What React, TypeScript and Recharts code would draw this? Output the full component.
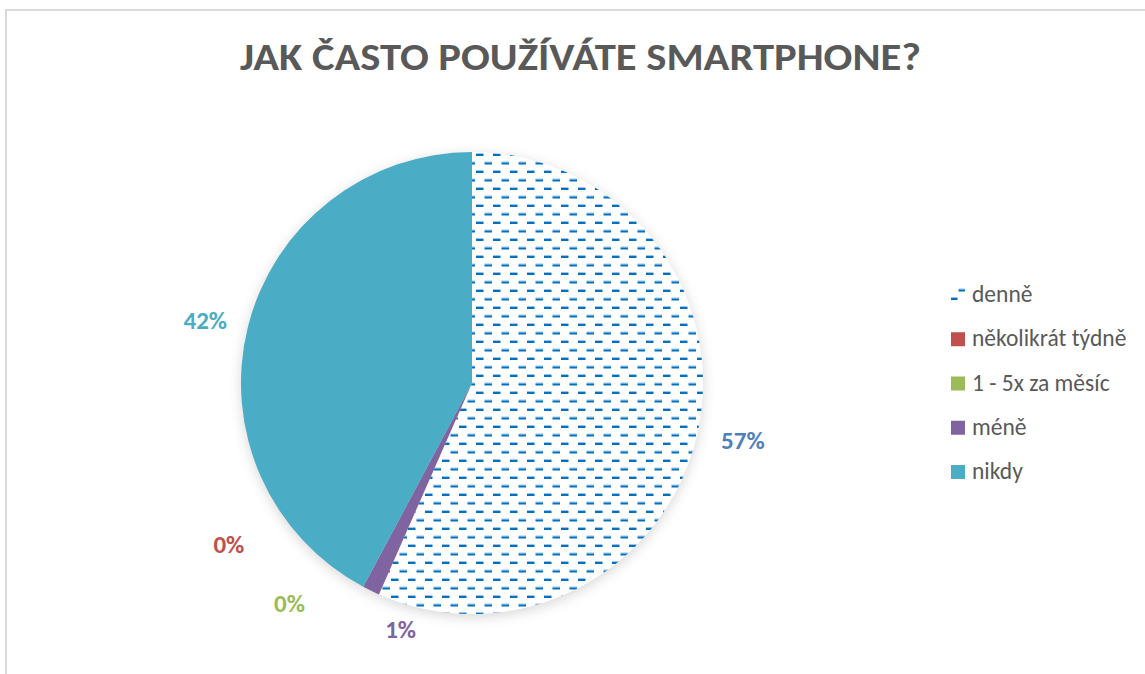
import React from "react";
import { PieChart, Pie, Cell, Legend } from "recharts";

const categories = ["denně", "několikrát týdně", "1 - 5x za měsíc", "méně", "nikdy"];
const values = [56.6, 0, 0, 1.2, 42.2];
const sliceFills = ["url(#dashPattern)", "#C0504D", "#9BBB59", "#8064A2", "#4BACC6"];
const labelColors = ["#4F81BD", "#C0504D", "#9BBB59", "#8064A2", "#4BACC6"];
const titleText = "JAK ČASTO POUŽÍVÁTE SMARTPHONE?";

// label layout (angular shift clockwise in degrees, radial gap beyond the rim)
const LABEL_PLACEMENT = [
  { shift: 0.2, gap: 46 },
  { shift: 32.6, gap: 61 },
  { shift: 15.9, gap: 55 },
  { shift: -9.8, gap: 26 },
  { shift: -0.8, gap: 43 },
];

const data = categories.map((name, i) => ({ name, value: values[i] }));
const total = values.reduce((a, b) => a + b, 0);

const FONT = "Carlito, Lato, 'Open Sans', sans-serif";
const RAD = Math.PI / 180;

const renderLabel = (props: any) => {
  const { cx, cy, midAngle, outerRadius, index } = props;
  const p = LABEL_PLACEMENT[index];
  const ang = midAngle - p.shift;
  const r = outerRadius + p.gap;
  const x = cx + r * Math.cos(-ang * RAD);
  const y = cy + r * Math.sin(-ang * RAD);
  const pct = Math.round((values[index] / total) * 100);
  return (
    <text
      key={`lbl-${index}`}
      x={x}
      y={y}
      textAnchor="middle"
      dominantBaseline="central"
      fill={labelColors[index]}
      fontFamily={FONT}
      fontWeight="bold"
      fontSize={25}
    >
      {`${pct}%`}
    </text>
  );
};

const renderLegend = () => (
  <svg width={195} height={230} style={{ overflow: "visible" }}>
    {categories.map((c, i) => {
      const base = 22 + i * 44.25;
      return (
        <g key={c}>
          <rect x={1} y={base - 14} width={14} height={14} fill={sliceFills[i]} />
          <text x={22} y={base} fill="#595959" fontFamily={FONT} fontSize={23.5}>
            {c}
          </text>
        </g>
      );
    })}
  </svg>
);

export default function App() {
  return (
    <div
      style={{
        position: "absolute",
        left: 0,
        top: 0,
        width: 1145,
        height: 674,
        overflow: "hidden",
        background: "#fff",
      }}
    >
      <svg width={0} height={0} style={{ position: "absolute" }}>
        <defs>
          <pattern id="dashPattern" patternUnits="userSpaceOnUse" width={17} height={17}>
            <rect x={0} y={0} width={17} height={17} fill="#fff" />
            <rect x={0} y={0} width={7.5} height={1} fill="#9DC3E6" />
            <rect x={0} y={1} width={7.5} height={2} fill="#0070C0" />
            <rect x={8.5} y={8.5} width={7.5} height={1} fill="#9DC3E6" />
            <rect x={8.5} y={9.5} width={7.5} height={2} fill="#0070C0" />
          </pattern>
        </defs>
      </svg>
      <div
        style={{
          position: "absolute",
          left: 5,
          top: 9,
          width: 1300,
          height: 800,
          border: "2px solid #d9d9d9",
          boxSizing: "border-box",
        }}
      />
      <div style={{ position: "absolute", left: 0, top: 0 }}>
        <PieChart width={1145} height={674} margin={{ top: 0, right: 0, bottom: 0, left: 0 }}>
          <Pie
            data={data}
            dataKey="value"
            nameKey="name"
            cx={472}
            cy={386}
            outerRadius={231}
            startAngle={90}
            endAngle={-270}
            isAnimationActive={false}
            stroke="none"
            fill="#000"
            className="pie-shadow"
            legendType="none"
          />
          <Pie
            data={data}
            dataKey="value"
            nameKey="name"
            cx={472}
            cy={383}
            outerRadius={231}
            startAngle={90}
            endAngle={-270}
            isAnimationActive={false}
            stroke="none"
            label={renderLabel}
            labelLine={false}
          >
            {data.map((d, i) => (
              <Cell key={d.name} fill={sliceFills[i]} stroke="none" />
            ))}
          </Pie>
          <Legend
            content={renderLegend}
            wrapperStyle={{ position: "absolute", left: 950, top: 280, width: 195 }}
          />
        </PieChart>
      </div>
      <svg
        width={1145}
        height={110}
        style={{ position: "absolute", left: 0, top: 0, pointerEvents: "none" }}
      >
        <text
          x={580.5}
          y={70}
          textAnchor="middle"
          fill="#595959"
          fontFamily={FONT}
          fontWeight="bold"
          fontSize={38}
          textLength={681}
          lengthAdjust="spacingAndGlyphs"
        >
          {titleText}
        </text>
      </svg>
      <style>{`.pie-shadow { opacity: 0.4; filter: blur(5px); }`}</style>
    </div>
  );
}
